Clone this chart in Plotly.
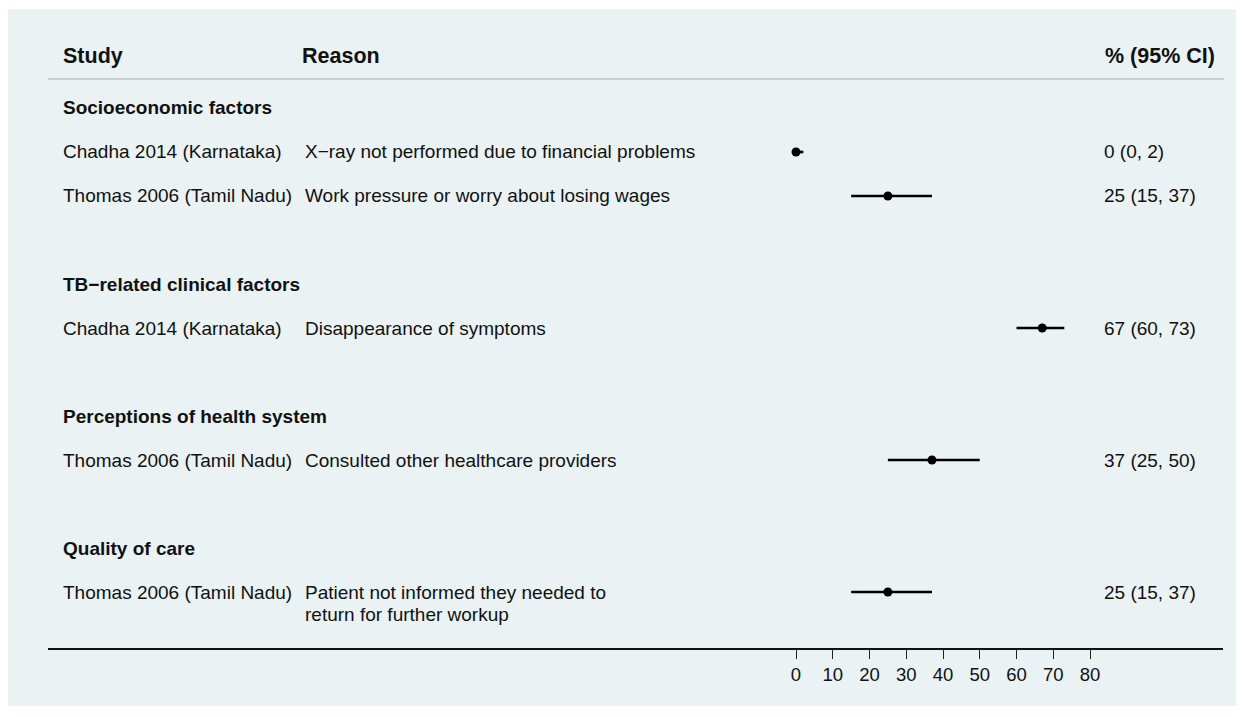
import plotly.graph_objects as go

# ---- data ----
groups = ["Socioeconomic factors", "TB\u2212related clinical factors",
          "Perceptions of health system", "Quality of care"]
group_rows = [0, 4, 7, 10]
studies = ["Chadha 2014 (Karnataka)", "Thomas 2006 (Tamil Nadu)",
           "Chadha 2014 (Karnataka)", "Thomas 2006 (Tamil Nadu)",
           "Thomas 2006 (Tamil Nadu)"]
reasons = ["X\u2212ray not performed due to financial problems",
           "Work pressure or worry about losing wages",
           "Disappearance of symptoms",
           "Consulted other healthcare providers",
           "Patient not informed they needed to\nreturn for further workup"]
study_rows = [1, 2, 5, 8, 11]
est = [0, 25, 67, 37, 25]
lo = [0, 15, 60, 25, 15]
hi = [2, 37, 73, 50, 37]
tick_vals = [0, 10, 20, 30, 40, 50, 60, 70, 80]

# page has an 8px body margin; figure is sized to fit the window
OFF = 8
W, H = 1244 - OFF, 717 - OFF
FONT = "Liberation Sans, Arial, Helvetica, sans-serif"

# geometry in window pixels
x0_px, px_per_unit = 796, 3.675
left_px, right_px = 48, 1223
top_px, bottom_px = 79, 648
row0_px, row_step = 108, 44

def fx(p):   # window px -> paper x
    return (p - OFF) / W

def fy(p):   # window px -> paper y
    return 1 - (p - OFF) / H

def px2x(p):
    return (p - x0_px) / px_per_unit

def px2row(p):
    return (p - row0_px) / row_step

fig = go.Figure()
fig.add_trace(go.Scatter(
    x=est, y=study_rows, mode="markers",
    marker=dict(color="black", size=9),
    error_x=dict(type="data", symmetric=False,
                 array=[h - e for h, e in zip(hi, est)],
                 arrayminus=[e - l for e, l in zip(est, lo)],
                 color="black", thickness=2.6, width=0),
    showlegend=False, hoverinfo="skip"))

ann = []
def txt(xpx, y, s, bold=False, size=19, anchor="left", yref="y"):
    ann.append(dict(xref="paper", yref=yref, x=fx(xpx), y=y,
                    text=f"<b>{s}</b>" if bold else s, showarrow=False,
                    xanchor=anchor, yanchor="middle",
                    font=dict(family=FONT, size=size, color="#111")))

# headers
hdr_y = fy(56)
txt(61, hdr_y, "Study", bold=True, size=21.5, yref="paper")
txt(300, hdr_y, "Reason", bold=True, size=21.5, yref="paper")
txt(1217, hdr_y, "% (95% CI)", bold=True, size=21.5, anchor="right", yref="paper")

for g, r in zip(groups, group_rows):
    txt(61, r, g, bold=True, size=19)

for s, rs, r, e, l, h in zip(studies, reasons, study_rows, est, lo, hi):
    txt(61, r, s)
    for i, line in enumerate(rs.split("\n")):
        txt(303, r + 0.5 * i, line)
    txt(1102, r, f"{e} ({l}, {h})")

fig.update_layout(
    width=W, height=H,
    margin=dict(l=0, r=0, t=0, b=0),
    paper_bgcolor="white", plot_bgcolor="rgba(0,0,0,0)",
    annotations=ann,
    shapes=[
        dict(type="rect", xref="paper", yref="paper", layer="below",
             x0=0, x1=fx(1237), y0=fy(706), y1=fy(9),
             fillcolor="rgb(234,242,243)", line=dict(width=0)),
        dict(type="line", xref="paper", yref="paper",
             x0=fx(left_px), x1=fx(1224), y0=fy(top_px), y1=fy(top_px),
             line=dict(color="#c4c6c7", width=1.6)),
    ],
    xaxis=dict(domain=[fx(left_px), fx(right_px)],
               range=[px2x(left_px), px2x(right_px)],
               tickvals=tick_vals, ticks="outside", ticklen=9, tickwidth=1.3,
               tickcolor="#222", showline=True, linecolor="#111", linewidth=2,
               showgrid=False, zeroline=False,
               tickfont=dict(family=FONT, size=18.5, color="#111")),
    yaxis=dict(domain=[fy(bottom_px), fy(top_px)],
               range=[px2row(bottom_px), px2row(top_px)],
               showticklabels=False, showgrid=False, zeroline=False,
               showline=False, ticks=""),
)

fig.write_html("out.html")
